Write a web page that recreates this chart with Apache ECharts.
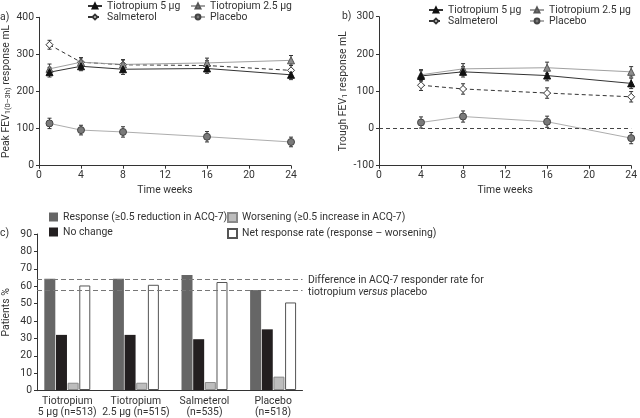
<!DOCTYPE html>
<html><head><meta charset="utf-8">
<script src="https://cdn.jsdelivr.net/npm/echarts@6/dist/echarts.min.js"></script>
<style>html,body{margin:0;padding:0;background:#fff}#c{width:640px;height:418px}</style>
</head><body><div id="c"></div>
<script>
// ---- Panel a: peak FEV1 (0-3h) response, mL ----
const weeksA = [1, 4, 8, 16, 24];
const tio5A = [252, 268, 260, 262, 245];
const tio25A = [261, 279, 273, 277, 284];
const salA = [326, 279, 272, 270, 257];
const placA = [114, 96, 91, 78, 64];
const tio5ErrA = [13, 12, 14, 13, 13];
const tio25ErrA = [13, 12, 13, 13, 13];
const salErrA = [12, 12, 13, 13, 13];
const placErrA = [14, 13, 14, 14, 13];

// ---- Panel b: trough FEV1 response, mL ----
const weeksB = [4, 8, 16, 24];
const tio5B = [141, 152, 142, 121];
const tio25B = [144, 160, 163, 152];
const salB = [116, 106, 95, 85];
const placB = [16, 32, 18, -26];
const tio5ErrB = [14, 14, 14, 14];
const tio25ErrB = [14, 14, 15, 14];
const salErrB = [14, 14, 14, 14];
const placErrB = [15, 15, 15, 15];

// ---- Panel c: ACQ-7 responder categories, % patients ----
const groupsC = ['Tiotropium\n5 µg (n=513)', 'Tiotropium\n2.5 µg (n=515)', 'Salmeterol\n(n=535)', 'Placebo\n(n=518)'];
const responseC = [64.2, 64.2, 66.3, 57.7];
const noChangeC = [31.8, 31.8, 29.3, 35.0];
const worseningC = [4.2, 4.2, 4.6, 7.7];
const netC = [60.3, 60.7, 62.3, 50.5];
const refLinesC = [64.2, 57.7];

const xTicks = [0, 24, 4];     // min, max, interval for time axes
const FONT = 'Roboto';
const FS = 10.4;
const TXT = '#333';

const pairs = (xs, ys) => xs.map((x, i) => [x, ys[i]]);
const triples = (xs, ys, es) => xs.map((x, i) => [x, ys[i], es[i]]);

function errItem(params, api) {
  const x = api.value(0), y = api.value(1), e = api.value(2);
  const hi = api.coord([x, y + e]), lo = api.coord([x, y - e]);
  const w = 2, st = {stroke: '#333', lineWidth: 1};
  return {type: 'group', children: [
    {type: 'line', shape: {x1: hi[0], y1: hi[1], x2: lo[0], y2: lo[1]}, style: st},
    {type: 'line', shape: {x1: hi[0] - w, y1: hi[1], x2: hi[0] + w, y2: hi[1]}, style: st},
    {type: 'line', shape: {x1: lo[0] - w, y1: lo[1], x2: lo[0] + w, y2: lo[1]}, style: st}
  ]};
}

const styles = {
  'Tiotropium 5 µg': {symbol: 'triangle', itemStyle: {color: '#111', borderColor: '#111', borderWidth: 1}, lineStyle: {color: '#333', width: 1}},
  'Tiotropium 2.5 µg': {symbol: 'triangle', itemStyle: {color: '#8c8c8c', borderColor: '#555', borderWidth: 1}, lineStyle: {color: '#a0a0a0', width: 1}},
  'Salmeterol': {symbol: 'diamond', itemStyle: {color: '#fff', borderColor: '#333', borderWidth: 1}, lineStyle: {color: '#333', width: 1, type: [4, 3]}},
  'Placebo': {symbol: 'circle', itemStyle: {color: '#7a7a7a', borderColor: '#444', borderWidth: 1}, lineStyle: {color: '#adadad', width: 1}}
};

function lineSeries(name, xs, ys, idx, extra) {
  const s = styles[name];
  return Object.assign({
    type: 'line', name, xAxisIndex: idx, yAxisIndex: idx, data: pairs(xs, ys),
    symbol: s.symbol, symbolSize: 7, itemStyle: s.itemStyle, lineStyle: s.lineStyle,
    z: 3
  }, extra || {});
}
function errSeries(xs, ys, es, idx) {
  return {type: 'custom', xAxisIndex: idx, yAxisIndex: idx, data: triples(xs, ys, es),
    renderItem: errItem, encode: {x: 0, y: 1}, z: 2, silent: true};
}

const axisCommon = {
  axisLine: {onZero: false, lineStyle: {color: '#333', width: 1}},
  axisTick: {length: 3, lineStyle: {color: '#333'}},
  axisLabel: {color: TXT, fontSize: FS, fontFamily: FONT, margin: 5},
  splitLine: {show: false},
  nameTextStyle: {color: TXT, fontSize: FS, fontFamily: FONT}
};
function timeAxis(gi) {
  return Object.assign({}, axisCommon, {type: 'value', gridIndex: gi, min: xTicks[0], max: xTicks[1], interval: xTicks[2],
    name: 'Time weeks', nameLocation: 'middle', nameGap: 20});
}

const legendText = {color: TXT, fontSize: FS, fontFamily: FONT, lineHeight: 10};
function lineLegend(names, left, top) {
  return {orient: 'vertical', left, top, data: names, itemWidth: 14, itemHeight: 6, itemGap: 1,
    textStyle: legendText, padding: 0, selectedMode: false};
}
function barLegend(names, left, top) {
  return {orient: 'vertical', left, top, data: names, icon: 'rect', itemWidth: 9, itemHeight: 9, itemGap: 5,
    textStyle: legendText, padding: 0, selectedMode: false};
}
const subRich = {s: {fontSize: 7.5, fontFamily: FONT, color: TXT, verticalAlign: 'bottom', padding: [4, 0, 0, 0]}};

const option = {
  animation: false,
  backgroundColor: '#fff',
  textStyle: {fontFamily: FONT},
  grid: [
    {left: 37, top: 17.3, width: 254, height: 148.4},
    {left: 379, top: 16.7, width: 255.3, height: 149},
    {left: 33, top: 234, width: 274.4, height: 156.7},
    {left: 37, top: 234, width: 265.5, height: 156.7}
  ],
  xAxis: [
    timeAxis(0),
    timeAxis(1),
    Object.assign({}, axisCommon, {type: 'category', gridIndex: 2, data: groupsC,
      axisLine: {show: false}, axisTick: {show: false},
      axisLabel: {color: TXT, fontSize: FS, fontFamily: FONT, margin: 6, lineHeight: 11, interval: 0}}),
    {type: 'value', gridIndex: 3, min: 0, max: 1, axisLine: {show: true, onZero: false, lineStyle: {color: '#333'}},
      axisTick: {show: false}, axisLabel: {show: false}, splitLine: {show: false}}
  ],
  yAxis: [
    Object.assign({}, axisCommon, {type: 'value', gridIndex: 0, min: 0, max: 400, interval: 100,
      name: 'Peak FEV{s|1(0–3h)} response mL', nameLocation: 'middle', nameGap: 27,
      nameTextStyle: {color: TXT, fontSize: FS, fontFamily: FONT, rich: subRich}}),
    Object.assign({}, axisCommon, {type: 'value', gridIndex: 1, min: -100, max: 300, interval: 100,
      name: 'Trough FEV{s|1} response mL', nameLocation: 'middle', nameGap: 30,
      nameTextStyle: {color: TXT, fontSize: FS, fontFamily: FONT, rich: subRich}}),
    {type: 'value', gridIndex: 2, min: 0, max: 90, show: false},
    Object.assign({}, axisCommon, {type: 'value', gridIndex: 3, min: 0, max: 90, interval: 10,
      name: 'Patients %', nameLocation: 'middle', nameGap: 26})
  ],
  legend: [
    lineLegend(['Tiotropium 5 µg', 'Salmeterol'], 87, 1),
    lineLegend(['Tiotropium 2.5 µg', 'Placebo'], 190, 1),
    lineLegend(['Tiotropium 5 µg', 'Salmeterol'], 428, 5),
    lineLegend(['Tiotropium 2.5 µg', 'Placebo'], 529, 5),
    barLegend(['Response (≥0.5 reduction in ACQ-7)', 'No change'], 49, 212),
    barLegend(['Worsening (≥0.5 increase in ACQ-7)', 'Net response rate (response – worsening)'], 227, 212)
  ],
  series: [
    // panel a
    errSeries(weeksA, placA, placErrA, 0),
    errSeries(weeksA, salA, salErrA, 0),
    errSeries(weeksA, tio25A, tio25ErrA, 0),
    errSeries(weeksA, tio5A, tio5ErrA, 0),
    lineSeries('Placebo', weeksA, placA, 0),
    lineSeries('Salmeterol', weeksA, salA, 0),
    lineSeries('Tiotropium 2.5 µg', weeksA, tio25A, 0),
    lineSeries('Tiotropium 5 µg', weeksA, tio5A, 0),
    // panel b
    errSeries(weeksB, placB, placErrB, 1),
    errSeries(weeksB, salB, salErrB, 1),
    errSeries(weeksB, tio25B, tio25ErrB, 1),
    errSeries(weeksB, tio5B, tio5ErrB, 1),
    lineSeries('Placebo', weeksB, placB, 1, {markLine: {silent: true, symbol: ['none', 'none'], label: {show: false},
      lineStyle: {color: '#444', width: 1, type: [4, 3]}, data: [{yAxis: 0}]}}),
    lineSeries('Salmeterol', weeksB, salB, 1),
    lineSeries('Tiotropium 2.5 µg', weeksB, tio25B, 1),
    lineSeries('Tiotropium 5 µg', weeksB, tio5B, 1),
    // panel c
    {type: 'bar', name: 'Response (≥0.5 reduction in ACQ-7)', xAxisIndex: 2, yAxisIndex: 2, data: responseC,
      barWidth: 11, barGap: '6%', itemStyle: {color: '#666'}},
    {type: 'bar', name: 'No change', xAxisIndex: 2, yAxisIndex: 2, data: noChangeC,
      barWidth: 11, barGap: '6%', itemStyle: {color: '#231f20'}},
    {type: 'bar', name: 'Worsening (≥0.5 increase in ACQ-7)', xAxisIndex: 2, yAxisIndex: 2, data: worseningC,
      barWidth: 11, barGap: '6%', itemStyle: {color: '#bdbdbd', borderColor: '#8a8a8a', borderWidth: 1}},
    {type: 'bar', name: 'Net response rate (response – worsening)', xAxisIndex: 2, yAxisIndex: 2, data: netC,
      barWidth: 11, barGap: '6%', itemStyle: {color: '#fff', borderColor: '#555', borderWidth: 1}},
    {type: 'scatter', xAxisIndex: 3, yAxisIndex: 3, data: [], silent: true,
      markLine: {silent: true, symbol: ['none', 'none'], label: {show: false},
        lineStyle: {color: '#777', width: 1, type: [5, 3]}, data: refLinesC.map(v => ({yAxis: v}))}}
  ],
  graphic: [
    {type: 'text', left: 0, top: 12, style: {text: 'a)', fill: TXT, font: FS + 'px ' + FONT}},
    {type: 'text', left: 342, top: 11, style: {text: 'b)', fill: TXT, font: FS + 'px ' + FONT}},
    {type: 'text', left: 0, top: 228, style: {text: 'c)', fill: TXT, font: FS + 'px ' + FONT}},
    {type: 'text', left: 308, top: 274, style: {
      text: 'Difference in ACQ-7 responder rate for\ntiotropium {i|versus} placebo',
      fill: TXT, font: FS + 'px ' + FONT, lineHeight: 12,
      rich: {i: {fontStyle: 'italic', fontSize: FS, fontFamily: FONT, fill: TXT}}}}
  ]
};
const chart = echarts.init(document.getElementById('c'), null, {renderer: 'canvas'});
chart.setOption(option);
</script></body></html>
